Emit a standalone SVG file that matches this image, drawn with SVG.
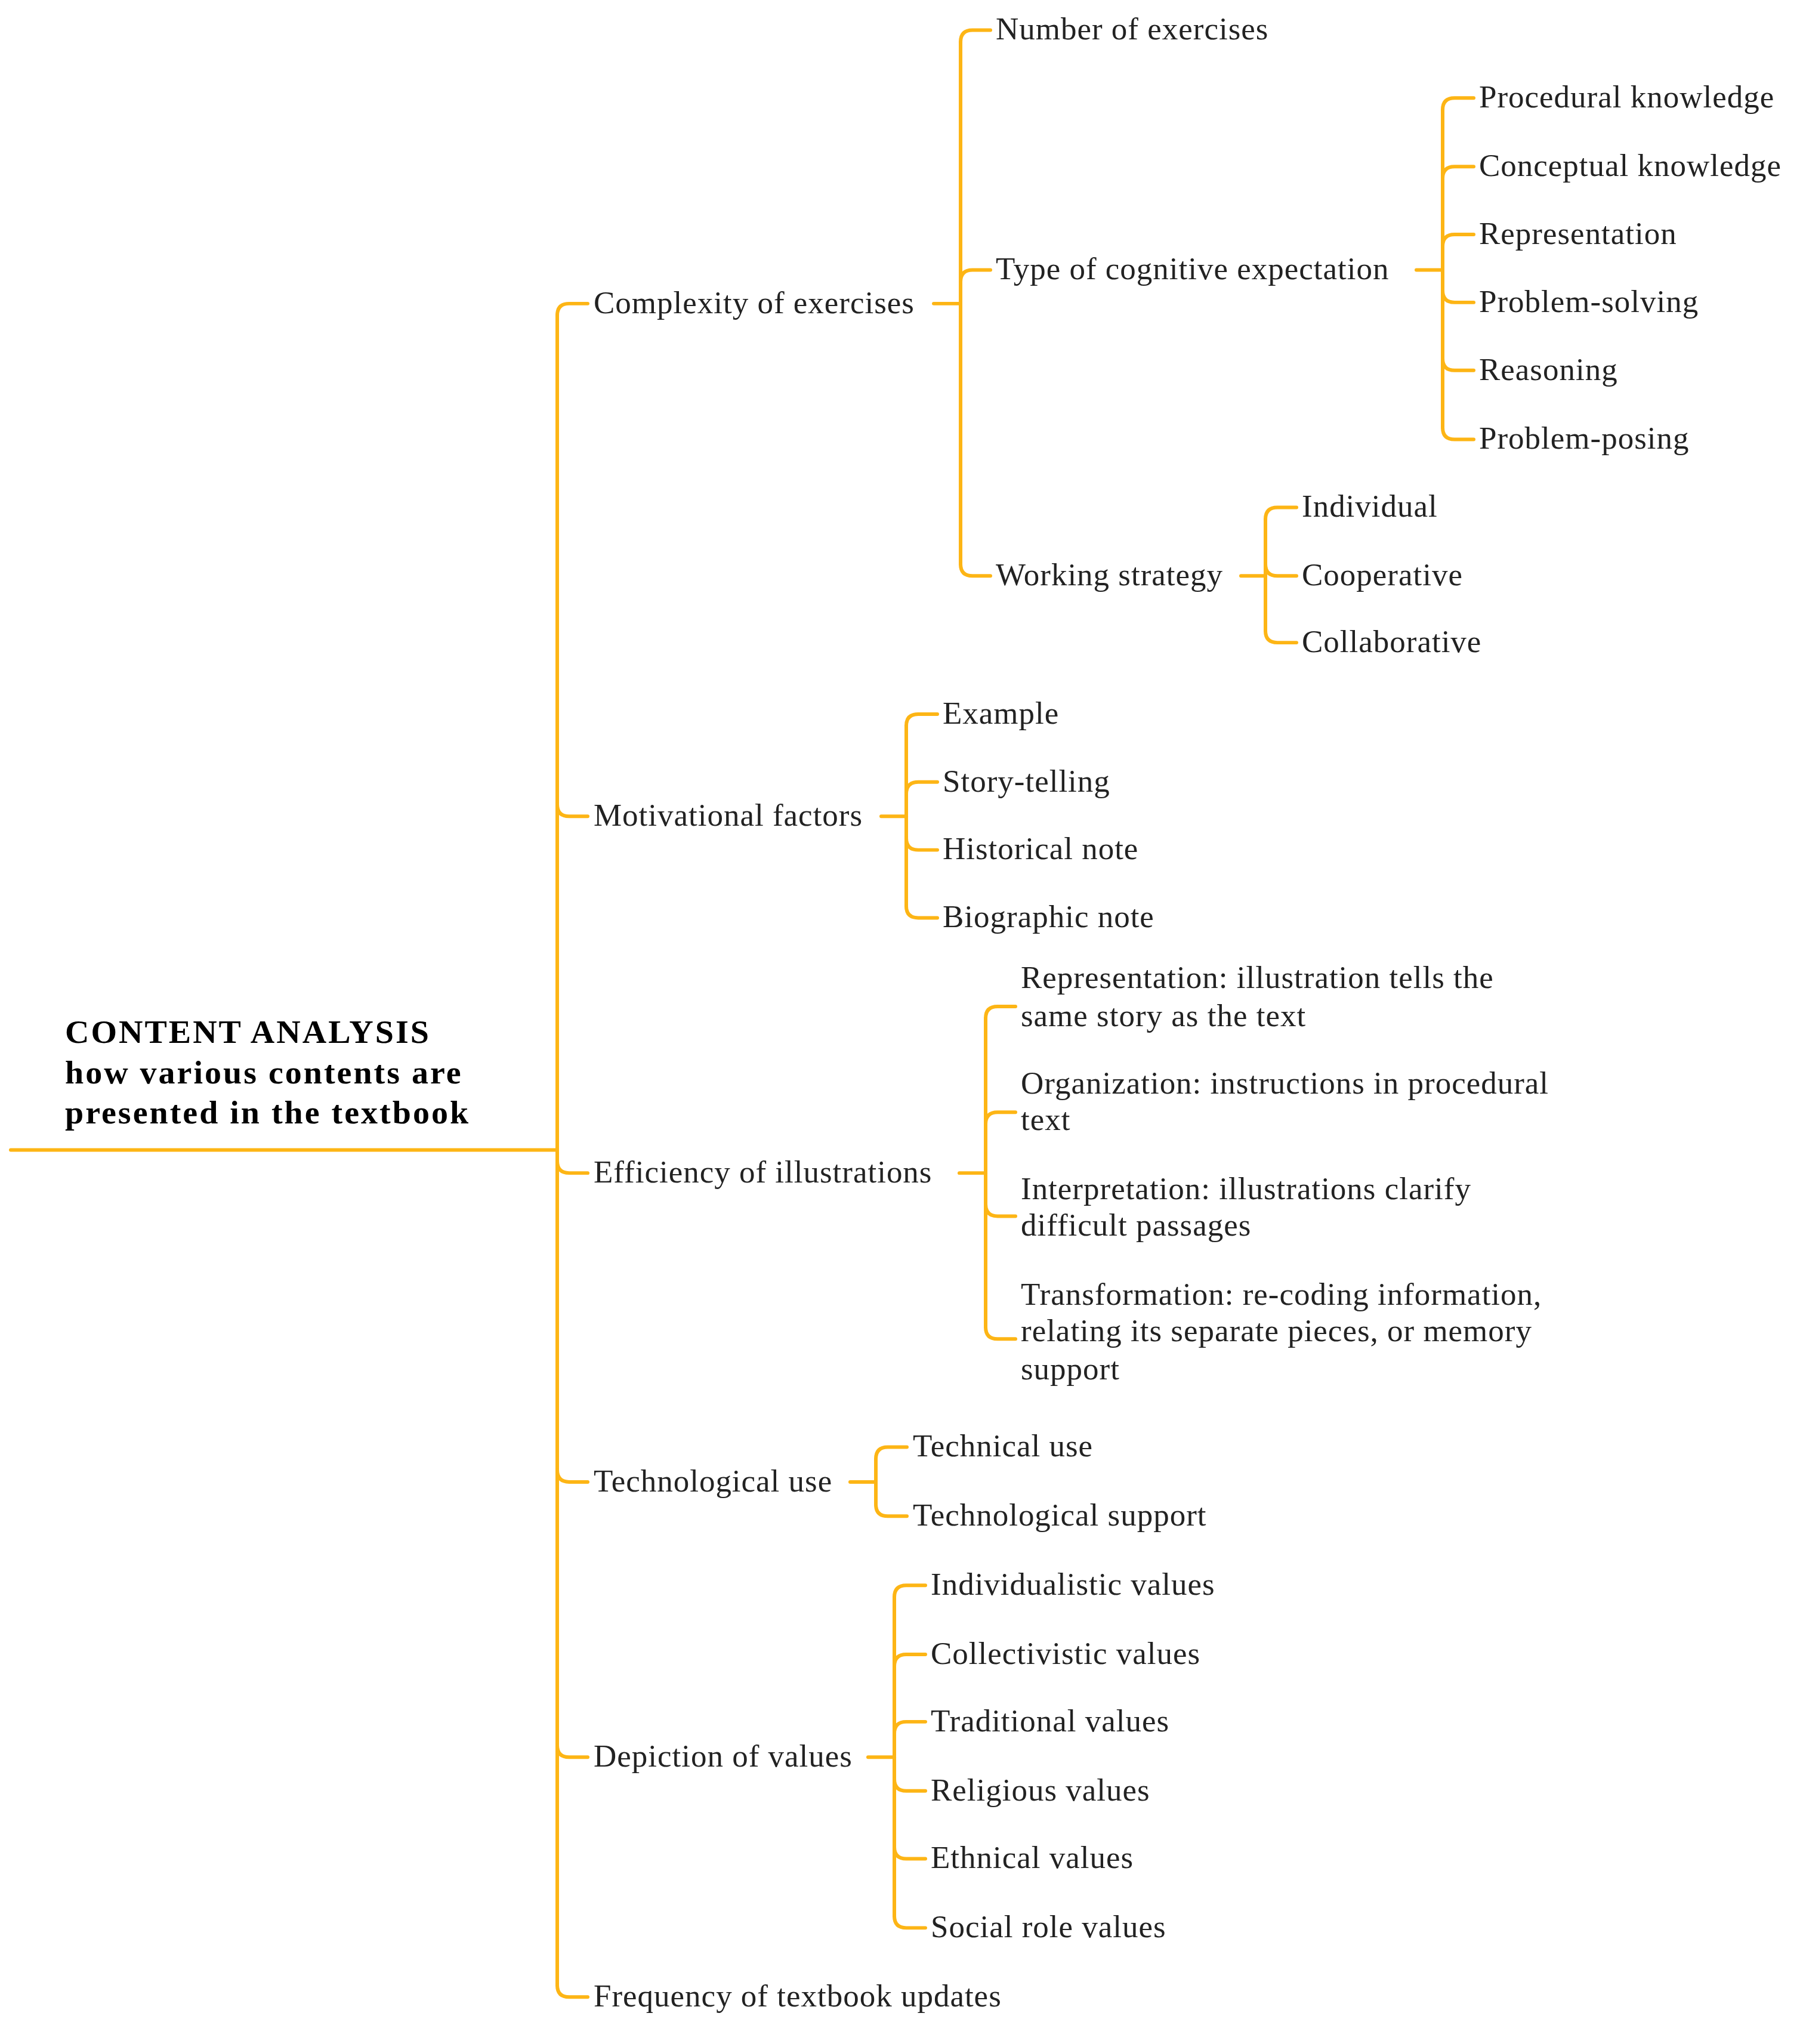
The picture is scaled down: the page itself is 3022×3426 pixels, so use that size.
<svg xmlns="http://www.w3.org/2000/svg" width="3022" height="3426" viewBox="0 0 3022 3426">
<style>
.c{fill:none;stroke:#FDB515;stroke-width:6;stroke-linecap:round}
text{font-family:"Liberation Serif","Times New Roman",Times,"DejaVu Serif",serif;font-size:53px;fill:#222;letter-spacing:1px}
.b{font-weight:bold;font-size:56px;fill:#000;letter-spacing:3px}
</style>
<rect width="3022" height="3426" fill="#fff"/>
<g transform="scale(1,0.99)">
<g id="connectors">
<path class="c" d="M18,1947 L934,1947"/>
<path class="c" d="M934,534 L934,3361"/>
<path class="c" d="M934,534 Q934,514 954,514 L985,514"/>
<path class="c" d="M934,1362 Q934,1382 954,1382 L985,1382"/>
<path class="c" d="M934,1966 Q934,1986 954,1986 L985,1986"/>
<path class="c" d="M934,2489 Q934,2509 954,2509 L985,2509"/>
<path class="c" d="M934,2955 Q934,2975 954,2975 L985,2975"/>
<path class="c" d="M934,3361 Q934,3381 954,3381 L985,3381"/>
<path class="c" d="M1565,514 L1610,514"/>
<path class="c" d="M1610,71 L1610,955"/>
<path class="c" d="M1610,71 Q1610,51 1630,51 L1660,51"/>
<path class="c" d="M1610,477 Q1610,457 1630,457 L1660,457"/>
<path class="c" d="M1610,955 Q1610,975 1630,975 L1660,975"/>
<path class="c" d="M2374,457 L2418,457"/>
<path class="c" d="M2418,186 L2418,724"/>
<path class="c" d="M2418,186 Q2418,166 2438,166 L2470,166"/>
<path class="c" d="M2418,302 Q2418,282 2438,282 L2470,282"/>
<path class="c" d="M2418,417 Q2418,397 2438,397 L2470,397"/>
<path class="c" d="M2418,492 Q2418,512 2438,512 L2470,512"/>
<path class="c" d="M2418,607 Q2418,627 2438,627 L2470,627"/>
<path class="c" d="M2418,724 Q2418,744 2438,744 L2470,744"/>
<path class="c" d="M2080,975 L2121,975"/>
<path class="c" d="M2121,879 L2121,1068"/>
<path class="c" d="M2121,879 Q2121,859 2141,859 L2173,859"/>
<path class="c" d="M2121,955 Q2121,975 2141,975 L2173,975"/>
<path class="c" d="M2121,1068 Q2121,1088 2141,1088 L2173,1088"/>
<path class="c" d="M1477,1382 L1519,1382"/>
<path class="c" d="M1519,1229 L1519,1534"/>
<path class="c" d="M1519,1229 Q1519,1209 1539,1209 L1571,1209"/>
<path class="c" d="M1519,1344 Q1519,1324 1539,1324 L1571,1324"/>
<path class="c" d="M1519,1419 Q1519,1439 1539,1439 L1571,1439"/>
<path class="c" d="M1519,1534 Q1519,1554 1539,1554 L1571,1554"/>
<path class="c" d="M1608,1986 L1652,1986"/>
<path class="c" d="M1652,1724 L1652,2247"/>
<path class="c" d="M1652,1724 Q1652,1704 1672,1704 L1702,1704"/>
<path class="c" d="M1652,1903 Q1652,1883 1672,1883 L1702,1883"/>
<path class="c" d="M1652,2039 Q1652,2059 1672,2059 L1702,2059"/>
<path class="c" d="M1652,2247 Q1652,2267 1672,2267 L1702,2267"/>
<path class="c" d="M1425,2509 L1468,2509"/>
<path class="c" d="M1468,2470 L1468,2547"/>
<path class="c" d="M1468,2470 Q1468,2450 1488,2450 L1520,2450"/>
<path class="c" d="M1468,2547 Q1468,2567 1488,2567 L1520,2567"/>
<path class="c" d="M1455,2975 L1499,2975"/>
<path class="c" d="M1499,2704 L1499,3244"/>
<path class="c" d="M1499,2704 Q1499,2684 1519,2684 L1551,2684"/>
<path class="c" d="M1499,2821 Q1499,2801 1519,2801 L1551,2801"/>
<path class="c" d="M1499,2935 Q1499,2915 1519,2915 L1551,2915"/>
<path class="c" d="M1499,3012 Q1499,3032 1519,3032 L1551,3032"/>
<path class="c" d="M1499,3127 Q1499,3147 1519,3147 L1551,3147"/>
<path class="c" d="M1499,3244 Q1499,3264 1519,3264 L1551,3264"/>
</g>
<g id="root"><text class="b" x="109" y="1766">CONTENT ANALYSIS</text><text class="b" x="109" y="1834">how various contents are</text><text class="b" x="109" y="1902">presented in the textbook</text></g>
<g id="n1"><text x="995" y="530">Complexity of exercises</text></g>
<g id="n2"><text x="995" y="1398">Motivational factors</text></g>
<g id="n3"><text x="995" y="2002">Efficiency of illustrations</text></g>
<g id="n4"><text x="995" y="2525">Technological use</text></g>
<g id="n5"><text x="995" y="2991">Depiction of values</text></g>
<g id="n6"><text x="995" y="3397">Frequency of textbook updates</text></g>
<g id="n11"><text x="1669" y="67">Number of exercises</text></g>
<g id="n12"><text x="1669" y="473">Type of cognitive expectation</text></g>
<g id="n13"><text x="1669" y="991">Working strategy</text></g>
<g id="n121"><text x="2479" y="182">Procedural knowledge</text></g>
<g id="n122"><text x="2479" y="298">Conceptual knowledge</text></g>
<g id="n123"><text x="2479" y="413">Representation</text></g>
<g id="n124"><text x="2479" y="528">Problem-solving</text></g>
<g id="n125"><text x="2479" y="643">Reasoning</text></g>
<g id="n126"><text x="2479" y="760">Problem-posing</text></g>
<g id="n131"><text x="2182" y="875">Individual</text></g>
<g id="n132"><text x="2182" y="991">Cooperative</text></g>
<g id="n133"><text x="2182" y="1104">Collaborative</text></g>
<g id="n21"><text x="1580" y="1225">Example</text></g>
<g id="n22"><text x="1580" y="1340">Story-telling</text></g>
<g id="n23"><text x="1580" y="1455">Historical note</text></g>
<g id="n24"><text x="1580" y="1570">Biographic note</text></g>
<g id="n31"><text x="1711" y="1673">Representation: illustration tells the</text><text x="1711" y="1737">same story as the text</text></g>
<g id="n32"><text x="1711" y="1852">Organization: instructions in procedural</text><text x="1711" y="1913">text</text></g>
<g id="n33"><text x="1711" y="2030">Interpretation: illustrations clarify</text><text x="1711" y="2092">difficult passages</text></g>
<g id="n34"><text x="1711" y="2209">Transformation: re-coding information,</text><text x="1711" y="2271">relating its separate pieces, or memory</text><text x="1711" y="2335">support</text></g>
<g id="n41"><text x="1530" y="2466">Technical use</text></g>
<g id="n42"><text x="1530" y="2583">Technological support</text></g>
<g id="n51"><text x="1560" y="2700">Individualistic values</text></g>
<g id="n52"><text x="1560" y="2817">Collectivistic values</text></g>
<g id="n53"><text x="1560" y="2931">Traditional values</text></g>
<g id="n54"><text x="1560" y="3048">Religious values</text></g>
<g id="n55"><text x="1560" y="3163">Ethnical values</text></g>
<g id="n56"><text x="1560" y="3280">Social role values</text></g>
</g>
</svg>
